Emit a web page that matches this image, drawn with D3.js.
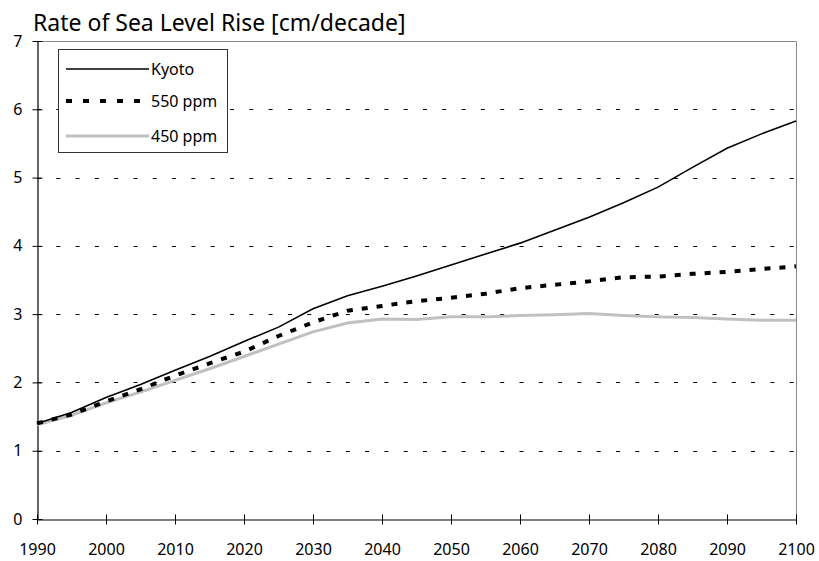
<!DOCTYPE html>
<html>
<head>
<meta charset="utf-8">
<script src="https://cdn.jsdelivr.net/npm/d3@7"></script>
<style>
  body { margin: 0; background: #fff; }
  svg text { font-family: "Noto Sans", "Open Sans", sans-serif; fill: #000; }
</style>
</head>
<body>
<div id="chart"></div>
<script>
var years = [1990, 1995, 2000, 2005, 2010, 2015, 2020, 2025, 2030, 2035, 2040, 2045,
             2050, 2055, 2060, 2065, 2070, 2075, 2080, 2085, 2090, 2095, 2100];
var kyoto = [1.40, 1.56, 1.78, 1.97, 2.18, 2.38, 2.60, 2.81, 3.08, 3.27, 3.41, 3.56,
             3.72, 3.88, 4.04, 4.23, 4.42, 4.63, 4.86, 5.15, 5.43, 5.64, 5.83];
var ppm550 = [1.40, 1.53, 1.72, 1.90, 2.10, 2.28, 2.45, 2.68, 2.88, 3.05, 3.12, 3.19,
              3.24, 3.30, 3.38, 3.43, 3.48, 3.54, 3.55, 3.59, 3.62, 3.66, 3.70];
var ppm450 = [1.38, 1.52, 1.70, 1.86, 2.03, 2.20, 2.38, 2.56, 2.74, 2.87, 2.93, 2.92,
              2.96, 2.96, 2.98, 2.99, 3.01, 2.98, 2.96, 2.95, 2.93, 2.91, 2.91];
var xTicks = [1990, 2000, 2010, 2020, 2030, 2040, 2050, 2060, 2070, 2080, 2090, 2100];
var yTicks = [0, 1, 2, 3, 4, 5, 6, 7];
var seriesNames = ["Kyoto", "550 ppm", "450 ppm"];

var width = 819, height = 561;
var margin = {top: 41, right: 23, bottom: 42, left: 37};
var w = width - margin.left - margin.right,
    h = height - margin.top - margin.bottom;

var svg = d3.select("#chart").append("svg")
    .attr("width", width)
    .attr("height", height);

var xScale = d3.scaleLinear().domain([1990, 2100]).range([0, w]),
    yScale = d3.scaleLinear().domain([0, 7]).range([h, 0]);

svg.append("text")
   .attr("x", 33)
   .attr("y", 31)
   .style("font-size", "23px")
   .text("Rate of Sea Level Rise [cm/decade]");

var g = svg.append("g")
    .attr("transform", "translate(" + margin.left + "," + margin.top + ")");

// dashed gridlines
g.selectAll(".grid")
 .data(yTicks.filter(function(d) { return d > 0 && d < 7; }))
 .enter().append("line")
   .attr("class", "grid")
   .attr("x1", 0).attr("x2", w)
   .attr("y1", function(d) { return Math.round(yScale(d)) + 0.5; })
   .attr("y2", function(d) { return Math.round(yScale(d)) + 0.5; })
   .attr("stroke", "#000")
   .attr("stroke-width", 1)
   .attr("stroke-dasharray", "4,15.3");

// top + right frame (grey)
g.append("path")
 .attr("d", "M0.5,0.5H" + (w + 0.5) + "V" + h)
 .attr("fill", "none")
 .attr("stroke", "#888")
 .attr("stroke-width", 1);

// axes
var yAxis = d3.axisLeft(yScale).tickValues(yTicks).tickFormat(d3.format("d"))
    .tickSizeInner(5).tickSizeOuter(0).tickPadding(10);
var xAxis = d3.axisBottom(xScale).tickValues(xTicks).tickFormat(d3.format("d"))
    .tickSizeInner(5).tickSizeOuter(0).tickPadding(19);

var gy = g.append("g").attr("transform", "translate(0.5,0)").call(yAxis);
var gx = g.append("g").attr("transform", "translate(0," + (h + 0.5) + ")").call(xAxis);

[gy, gx].forEach(function(ax) {
  ax.select(".domain").attr("stroke", "#000").attr("stroke-width", 1.2);
  ax.selectAll(".tick line").attr("stroke", "#000");
  ax.selectAll(".tick text").style("font-size", "16px").attr("fill", "#000")
    .style("font-family", "'Noto Sans', 'Open Sans', sans-serif");
});
// cross ticks (extend inside too)
gy.selectAll(".tick line").attr("x1", 5);
gx.selectAll(".tick line").attr("y1", -5);

var line = d3.line()
    .x(function(d, i) { return xScale(years[i]); })
    .y(function(d) { return yScale(d); });

var styles = [
  {data: kyoto, stroke: "#000", width: 1.6, dash: null},
  {data: ppm550, stroke: "#000", width: 4, dash: "6,9"},
  {data: ppm450, stroke: "#c0c0c0", width: 3, dash: null}
];

g.selectAll(".series")
 .data(styles.slice().reverse())
 .enter().append("path")
   .attr("class", "series")
   .attr("d", function(d) { return line(d.data); })
   .attr("fill", "none")
   .attr("stroke", function(d) { return d.stroke; })
   .attr("stroke-width", function(d) { return d.width; })
   .attr("stroke-dasharray", function(d) { return d.dash; });

// legend
var legend = svg.append("g").attr("transform", "translate(58,49)");
legend.append("rect")
  .attr("x", 0.5).attr("y", 0.5)
  .attr("width", 169).attr("height", 103)
  .attr("fill", "#fff")
  .attr("stroke", "#333")
  .attr("stroke-width", 1);

var items = legend.selectAll(".item")
  .data(styles)
  .enter().append("g")
    .attr("class", "item")
    .attr("transform", function(d, i) { return "translate(0," + [20, 52, 87][i] + ")"; });

items.append("line")
  .attr("x1", 8).attr("x2", 91)
  .attr("stroke", function(d) { return d.stroke; })
  .attr("stroke-width", function(d) { return d.width; })
  .attr("stroke-dasharray", function(d) { return d.dash ? "6,11" : null; });

items.append("text")
  .attr("x", 93)
  .attr("dy", "0.35em")
  .style("font-size", "16px")
  .text(function(d, i) { return seriesNames[i]; });
</script>
</body>
</html>
